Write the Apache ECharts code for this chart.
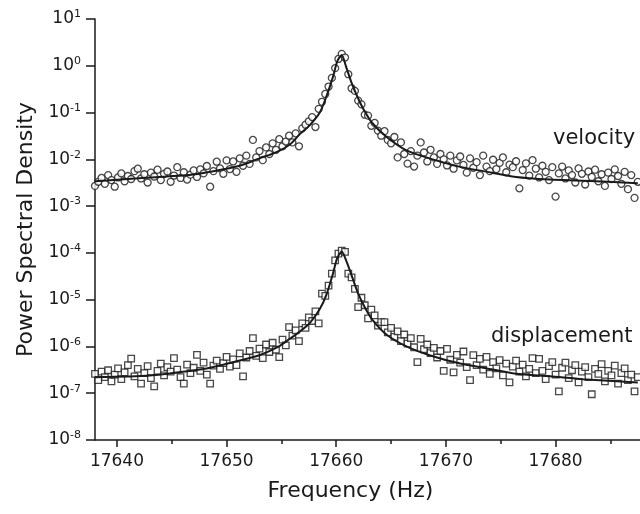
<!DOCTYPE html>
<html>
<head>
<meta charset="utf-8">
<title>Power Spectral Density</title>
<script src="https://cdn.jsdelivr.net/npm/echarts@6/dist/echarts.min.js"></script>
<style>
    html, body { margin: 0; padding: 0; background: #fff; }
    #main { width: 640px; height: 514px; }
</style>
</head>
<body>
<div id="main"></div>
<script>
"use strict";

// 测量频率 (Hz)
const freq = [
    17638.0, 17638.3, 17638.6, 17638.9, 17639.2, 17639.5, 17639.8, 17640.1, 17640.4, 17640.7,
    17641.0, 17641.3, 17641.6, 17641.9, 17642.2, 17642.5, 17642.8, 17643.1, 17643.4, 17643.7,
    17644.0, 17644.3, 17644.6, 17644.9, 17645.2, 17645.5, 17645.8, 17646.1, 17646.4, 17646.7,
    17647.0, 17647.3, 17647.6, 17647.9, 17648.2, 17648.5, 17648.8, 17649.1, 17649.4, 17649.7,
    17650.0, 17650.3, 17650.6, 17650.9, 17651.2, 17651.5, 17651.8, 17652.1, 17652.4, 17652.7,
    17653.0, 17653.3, 17653.6, 17653.9, 17654.2, 17654.5, 17654.8, 17655.1, 17655.4, 17655.7,
    17656.0, 17656.3, 17656.6, 17656.9, 17657.2, 17657.5, 17657.8, 17658.1, 17658.4, 17658.7,
    17659.0, 17659.3, 17659.6, 17659.9, 17660.2, 17660.5, 17660.8, 17661.1, 17661.4, 17661.7,
    17662.0, 17662.3, 17662.6, 17662.9, 17663.2, 17663.5, 17663.8, 17664.1, 17664.4, 17664.7,
    17665.0, 17665.3, 17665.6, 17665.9, 17666.2, 17666.5, 17666.8, 17667.1, 17667.4, 17667.7,
    17668.0, 17668.3, 17668.6, 17668.9, 17669.2, 17669.5, 17669.8, 17670.1, 17670.4, 17670.7,
    17671.0, 17671.3, 17671.6, 17671.9, 17672.2, 17672.5, 17672.8, 17673.1, 17673.4, 17673.7,
    17674.0, 17674.3, 17674.6, 17674.9, 17675.2, 17675.5, 17675.8, 17676.1, 17676.4, 17676.7,
    17677.0, 17677.3, 17677.6, 17677.9, 17678.2, 17678.5, 17678.8, 17679.1, 17679.4, 17679.7,
    17680.0, 17680.3, 17680.6, 17680.9, 17681.2, 17681.5, 17681.8, 17682.1, 17682.4, 17682.7,
    17683.0, 17683.3, 17683.6, 17683.9, 17684.2, 17684.5, 17684.8, 17685.1, 17685.4, 17685.7,
    17686.0, 17686.3, 17686.6, 17686.9, 17687.2, 17687.5
];

// velocity 测量点 (圆圈)
const velocity = [
    2.7e-3, 3.3e-3, 4.0e-3, 3.0e-3, 4.6e-3, 3.6e-3, 2.6e-3, 4.1e-3, 5.0e-3, 3.4e-3,
    4.4e-3, 3.8e-3, 5.6e-3, 6.3e-3, 3.9e-3, 4.8e-3, 3.2e-3, 5.2e-3, 4.3e-3, 6.0e-3,
    3.6e-3, 4.9e-3, 5.5e-3, 3.3e-3, 4.5e-3, 6.8e-3, 4.0e-3, 5.3e-3, 3.7e-3, 4.7e-3,
    5.8e-3, 4.2e-3, 6.1e-3, 5.0e-3, 7.2e-3, 2.6e-3, 5.6e-3, 8.9e-3, 6.4e-3, 4.9e-3,
    9.5e-3, 6.2e-3, 9.0e-3, 5.4e-3, 1.05e-2, 7.3e-3, 1.2e-2, 8.0e-3, 2.6e-2, 1.1e-2,
    1.5e-2, 9.6e-3, 1.8e-2, 1.3e-2, 2.2e-2, 1.6e-2, 2.7e-2, 1.9e-2, 2.4e-2, 3.2e-2,
    2.3e-2, 3.6e-2, 1.9e-2, 4.6e-2, 5.5e-2, 6.5e-2, 8.0e-2, 4.9e-2, 1.2e-1, 1.7e-1,
    2.5e-1, 3.6e-1, 5.5e-1, 8.9e-1, 1.4, 1.8, 1.5, 6.6e-1, 3.3e-1, 2.9e-1,
    1.8e-1, 1.5e-1, 9.0e-2, 8.6e-2, 5.2e-2, 6.0e-2, 4.1e-2, 3.2e-2, 4.0e-2, 2.6e-2,
    2.2e-2, 3.0e-2, 1.1e-2, 2.3e-2, 1.3e-2, 8.1e-3, 1.5e-2, 7.0e-3, 1.2e-2, 2.3e-2,
    1.4e-2, 9.0e-3, 1.6e-2, 1.1e-2, 8.0e-3, 1.3e-2, 1.0e-2, 7.4e-3, 1.2e-2, 6.3e-3,
    9.5e-3, 1.15e-2, 7.6e-3, 5.2e-3, 1.05e-2, 6.6e-3, 8.7e-3, 4.6e-3, 1.2e-2, 7.0e-3,
    5.6e-3, 9.8e-3, 6.2e-3, 8.4e-3, 1.1e-2, 5.3e-3, 7.7e-3, 6.8e-3, 9.1e-3, 2.4e-3,
    5.9e-3, 8.2e-3, 4.5e-3, 9.6e-3, 6.3e-3, 4.1e-3, 7.3e-3, 5.4e-3, 3.6e-3, 6.8e-3,
    1.6e-3, 5.0e-3, 7.0e-3, 3.9e-3, 5.8e-3, 4.6e-3, 3.2e-3, 6.4e-3, 4.9e-3, 2.9e-3,
    5.5e-3, 4.2e-3, 6.0e-3, 3.4e-3, 4.8e-3, 2.7e-3, 5.2e-3, 3.8e-3, 6.1e-3, 4.4e-3,
    3.0e-3, 5.4e-3, 2.3e-3, 4.6e-3, 1.5e-3, 3.3e-3
];

// displacement 测量点 (方块)
const displacement = [
    2.6e-7, 1.9e-7, 2.9e-7, 2.2e-7, 3.1e-7, 1.8e-7, 2.5e-7, 3.4e-7, 2.0e-7, 2.8e-7,
    4.0e-7, 5.5e-7, 2.3e-7, 3.3e-7, 1.6e-7, 2.7e-7, 3.8e-7, 2.1e-7, 1.4e-7, 3.0e-7,
    4.3e-7, 2.4e-7, 3.6e-7, 2.9e-7, 5.6e-7, 3.2e-7, 2.2e-7, 1.6e-7, 4.1e-7, 2.7e-7,
    3.5e-7, 6.6e-7, 3.0e-7, 4.5e-7, 2.5e-7, 1.6e-7, 3.9e-7, 5.0e-7, 3.3e-7, 4.4e-7,
    6.0e-7, 3.7e-7, 5.3e-7, 4.0e-7, 7.1e-7, 2.3e-7, 5.8e-7, 8.0e-7, 1.5e-6, 6.3e-7,
    9.0e-7, 5.6e-7, 1.1e-6, 7.6e-7, 1.2e-6, 8.5e-7, 5.9e-7, 1.4e-6, 1.05e-6, 2.6e-6,
    1.7e-6, 2.2e-6, 1.3e-6, 3.1e-6, 2.5e-6, 4.2e-6, 3.5e-6, 5.6e-6, 3.1e-6, 1.35e-5,
    1.2e-5, 2.0e-5, 3.6e-5, 6.9e-5, 9.6e-5, 1.12e-4, 1.05e-4, 3.6e-5, 3.0e-5, 1.7e-5,
    6.9e-6, 1.1e-5, 7.6e-6, 4.0e-6, 6.1e-6, 4.6e-6, 2.8e-6, 3.3e-6, 3.3e-6, 2.0e-6,
    2.5e-6, 1.6e-6, 2.1e-6, 1.3e-6, 1.8e-6, 1.15e-6, 1.5e-6, 9.6e-7, 4.6e-7, 1.45e-6,
    8.7e-7, 1.1e-6, 7.2e-7, 9.3e-7, 5.8e-7, 8.0e-7, 3.0e-7, 8.9e-7, 5.2e-7, 2.8e-7,
    6.6e-7, 4.5e-7, 7.8e-7, 3.6e-7, 1.9e-7, 6.5e-7, 4.0e-7, 5.4e-7, 3.2e-7, 6.0e-7,
    2.6e-7, 4.6e-7, 3.4e-7, 5.1e-7, 2.4e-7, 4.3e-7, 1.7e-7, 3.7e-7, 5.0e-7, 2.9e-7,
    4.1e-7, 2.3e-7, 3.3e-7, 5.6e-7, 2.7e-7, 5.4e-7, 3.0e-7, 2.0e-7, 3.8e-7, 4.6e-7,
    2.5e-7, 1.1e-7, 3.5e-7, 4.5e-7, 2.1e-7, 3.1e-7, 4.0e-7, 1.7e-7, 2.9e-7, 3.6e-7,
    2.2e-7, 9.5e-8, 3.3e-7, 2.6e-7, 4.2e-7, 1.8e-7, 3.0e-7, 2.4e-7, 3.9e-7, 1.6e-7,
    2.7e-7, 3.4e-7, 1.9e-7, 2.5e-7, 1.1e-7, 2.2e-7
];

// 拟合曲线 (实线)
const fitFreq = [
    17638.0, 17643.0, 17646.6, 17648.5, 17651.2, 17653.0, 17654.6, 17655.8, 17656.7, 17657.6,
    17658.5, 17659.1, 17659.7, 17660.1, 17660.5, 17660.9, 17661.4, 17662.0, 17662.6, 17663.3,
    17664.6, 17666.4, 17668.5, 17671.3, 17673.4, 17676.4, 17679.5, 17682.5, 17687.5
];
const velocityFit = [
    3.4e-3, 4.1e-3, 4.6e-3, 5.4e-3, 7.3e-3, 1.05e-2, 1.45e-2, 2.1e-2, 3.5e-2, 5.4e-2,
    1.0e-1, 2.2e-1, 5.8e-1, 1.26, 1.7, 9.5e-1, 4.3e-1, 2.0e-1, 1.05e-1, 5.9e-2,
    3.0e-2, 1.55e-2, 1.05e-2, 6.9e-3, 5.6e-3, 4.2e-3, 3.7e-3, 3.5e-3, 3.1e-3
];
const displacementFit = [
    2.2e-7, 2.4e-7, 3.0e-7, 3.5e-7, 5.0e-7, 6.5e-7, 9.5e-7, 1.48e-6, 2.1e-6, 3.2e-6,
    6.3e-6, 1.26e-5, 3.6e-5, 7.9e-5, 1.07e-4, 6.9e-5, 3.3e-5, 1.35e-5, 6.9e-6, 3.7e-6,
    1.78e-6, 1.0e-6, 6.5e-7, 4.3e-7, 3.5e-7, 2.6e-7, 2.3e-7, 2.0e-7, 1.7e-7
];

// 刻度
const xMajorTicks = [17640, 17650, 17660, 17670, 17680];
const xMinorTicks = [17645, 17655, 17665, 17675, 17685];
const yTicks = [1e-8, 1e-7, 1e-6, 1e-5, 1e-4, 1e-3, 1e-2, 1e-1, 1e0, 1e1];

const FONT = 'DejaVu Sans';
const INK = '#1a1a1a';

let myChart = echarts.init(document.getElementById('main'), null, {renderer: 'canvas'});

let markerStyle = {
    color: '#ffffff',
    borderColor: INK,
    borderWidth: 1.3,
};

let option = {
    animation: false,
    backgroundColor: '#ffffff',
    grid: {
        left: 95,
        right: 0,
        top: 19,
        bottom: 74,
    },
    xAxis: [
        { // 主刻度 + 标签
            type: 'value',
            min: 17638,
            max: 17687.7,
            name: 'Frequency (Hz)',
            nameLocation: 'middle',
            nameGap: 40,
            nameTextStyle: {
                fontFamily: FONT,
                fontSize: 22,
                color: INK,
                padding: [0, 34, 0, 0],
            },
            axisLine: {
                show: true,
                lineStyle: {color: INK, width: 1.5},
            },
            axisTick: {
                show: true,
                inside: false,
                length: 7,
                customValues: xMajorTicks,
                lineStyle: {color: INK, width: 1.5},
            },
            axisLabel: {
                customValues: xMajorTicks,
                margin: 13,
                fontFamily: FONT,
                fontSize: 17,
                color: INK,
                formatter: function (value) {
                    return String(value); // 不要千位分隔符
                },
            },
            splitLine: {show: false},
        },
        { // 次刻度
            type: 'value',
            min: 17638,
            max: 17687.7,
            position: 'bottom',
            axisLine: {show: false},
            axisTick: {
                show: true,
                length: 4,
                customValues: xMinorTicks,
                lineStyle: {color: INK, width: 1.5},
            },
            axisLabel: {show: false},
            splitLine: {show: false},
        },
    ],
    yAxis: {
        type: 'log',
        logBase: 10,
        min: 1e-8,
        max: 1e1,
        name: 'Power Spectral Density',
        nameLocation: 'middle',
        nameGap: 57,
        nameTextStyle: {
            fontFamily: FONT,
            fontSize: 22,
            color: INK,
        },
        axisLine: {
            show: true,
            lineStyle: {color: INK, width: 1.5},
        },
        axisTick: {
            show: true,
            length: 9,
            customValues: yTicks,
            lineStyle: {color: INK, width: 1.5},
        },
        axisLabel: {
            customValues: yTicks,
            margin: 14,
            formatter: function (value) {
                let exp = Math.round(Math.log10(value));
                return '{b|10}{e|' + exp + '}';
            },
            rich: {
                b: {fontFamily: FONT, fontSize: 17, color: INK, lineHeight: 20},
                e: {fontFamily: FONT, fontSize: 11, color: INK, verticalAlign: 'top', lineHeight: 12},
            },
        },
        splitLine: {show: false},
    },
    graphic: [
        {
            type: 'text',
            left: 553,
            top: 128,
            style: {text: 'velocity', font: '21px "DejaVu Sans"', fill: INK},
        },
        {
            type: 'text',
            left: 491,
            top: 326,
            style: {text: 'displacement', font: '21px "DejaVu Sans"', fill: INK},
        },
    ],
    series: [
        {
            name: 'velocity',
            type: 'scatter',
            symbol: 'circle',
            symbolSize: 7,
            itemStyle: markerStyle,
            data: freq.map((f, i) => [f, velocity[i]]),
            z: 2,
        },
        {
            name: 'displacement',
            type: 'scatter',
            symbol: 'rect',
            symbolSize: 6.5,
            itemStyle: markerStyle,
            data: freq.map((f, i) => [f, displacement[i]]),
            z: 2,
        },
        {
            name: 'velocity fit',
            type: 'line',
            showSymbol: false,
            smooth: 0.25,
            lineStyle: {color: INK, width: 2},
            data: fitFreq.map((f, i) => [f, velocityFit[i]]),
            z: 3,
        },
        {
            name: 'displacement fit',
            type: 'line',
            showSymbol: false,
            smooth: 0.25,
            lineStyle: {color: INK, width: 2},
            data: fitFreq.map((f, i) => [f, displacementFit[i]]),
            z: 3,
        },
    ],
};

myChart.setOption(option);

window.addEventListener('resize', function () {
    myChart.resize();
});
</script>
</body>
</html>
